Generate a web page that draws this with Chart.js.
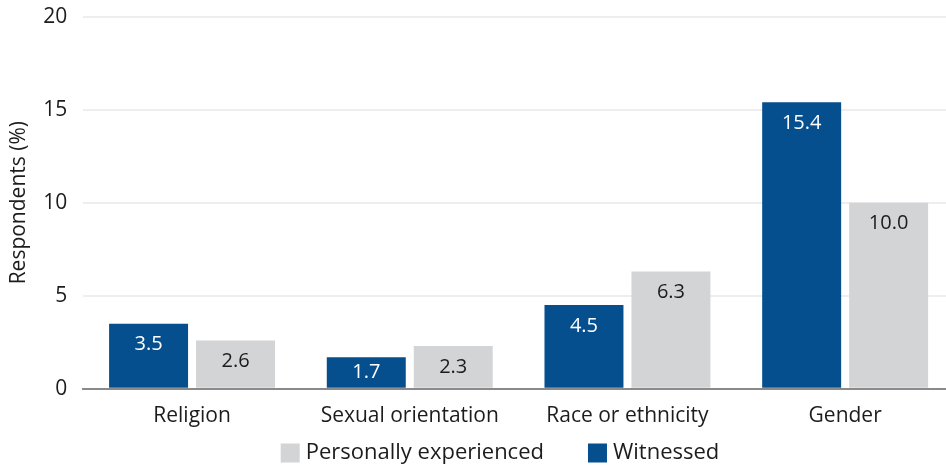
<!DOCTYPE html>
<html>
<head>
<meta charset="utf-8">
<script src="https://cdn.jsdelivr.net/npm/chart.js@4/dist/chart.umd.min.js"></script>
<style>
    html, body { margin: 0; padding: 0; background: #fff; overflow: hidden; }
    #wrap { width: 954px; height: 469px; }
</style>
</head>
<body>
<div id="wrap"><canvas id="chart"></canvas></div>
<script>
    // Data
    var categories = ["Religion", "Sexual orientation", "Race or ethnicity", "Gender"];
    var witnessed = [3.5, 1.7, 4.5, 15.4];
    var experienced = [2.6, 2.3, 6.3, 10.0];
    var yTicks = [0, 5, 10, 15, 20];

    var BLUE = "#064f8e";
    var GRAY = "#d3d4d6";
    var TEXT = "#1c1c1c";
    var FONT = "'Open Sans', 'Noto Sans', sans-serif";

    // Value labels inside the top of each bar
    var barLabels = {
        id: "barLabels",
        afterDatasetsDraw: function (chart) {
            var ctx = chart.ctx;
            ctx.save();
            ctx.font = "20px " + FONT;
            ctx.textAlign = "center";
            ctx.textBaseline = "middle";
            chart.data.datasets.forEach(function (ds, i) {
                var meta = chart.getDatasetMeta(i);
                meta.data.forEach(function (bar, j) {
                    var y = Math.min(bar.y + 21, bar.base - 16);
                    ctx.fillStyle = i === 0 ? "#ffffff" : TEXT;
                    ctx.fillText(ds.data[j].toFixed(1), bar.x, y);
                });
            });
            ctx.restore();
        }
    };

    // Legend under the axis: Personally experienced first, then Witnessed
    var bottomLegend = {
        id: "bottomLegend",
        afterDraw: function (chart) {
            var ctx = chart.ctx;
            var box = 19, textGap = 6, itemGap = 44;
            var items = chart.data.datasets.slice().reverse();
            ctx.save();
            ctx.font = "22px " + FONT;
            ctx.textBaseline = "middle";
            var total = 0;
            items.forEach(function (ds, i) {
                total += box + textGap + ctx.measureText(ds.label).width;
                if (i < items.length - 1) total += itemGap;
            });
            var x = 500 - total / 2;
            var y = 453;
            items.forEach(function (ds) {
                ctx.fillStyle = ds.backgroundColor;
                ctx.fillRect(x, y - box / 2, box, box);
                x += box + textGap;
                ctx.fillStyle = TEXT;
                ctx.fillText(ds.label, x, y);
                x += ctx.measureText(ds.label).width + itemGap;
            });
            ctx.restore();
        }
    };

    var ctx = document.getElementById("chart").getContext("2d");
    var myChart = new Chart(ctx, {
        type: "bar",
        data: {
            labels: categories,
            datasets: [{
                label: "Witnessed",
                data: witnessed,
                backgroundColor: BLUE
            }, {
                label: "Personally experienced",
                data: experienced,
                backgroundColor: GRAY
            }]
        },
        options: {
            responsive: true,
            maintainAspectRatio: false,
            animation: false,
            categoryPercentage: 0.799,
            barPercentage: 0.908,
            layout: { padding: { top: 0, right: 0, left: 0, bottom: 25 } },
            plugins: {
                tooltip: { enabled: false },
                legend: { display: false }
            },
            scales: {
                x: {
                    grid: { display: false, drawTicks: false },
                    border: { color: "#8a8a8a", width: 2 },
                    ticks: {
                        color: TEXT,
                        font: { family: FONT, size: 21 },
                        padding: 15
                    }
                },
                y: {
                    min: 0,
                    max: 20,
                    afterBuildTicks: function (axis) {
                        axis.ticks = yTicks.map(function (v) { return { value: v }; });
                    },
                    grid: {
                        color: "#eeeeee",
                        lineWidth: 2,
                        drawTicks: true,
                        tickLength: 12,
                        tickColor: "rgba(0,0,0,0)"
                    },
                    border: { display: false },
                    ticks: {
                        color: TEXT,
                        font: { family: FONT, size: 21 },
                        padding: 4
                    },
                    title: {
                        display: true,
                        text: "Respondents (%)",
                        color: TEXT,
                        font: { family: FONT, size: 21 },
                        padding: { top: 6, bottom: 8 }
                    }
                }
            }
        },
        plugins: [barLabels, bottomLegend]
    });
</script>
</body>
</html>
